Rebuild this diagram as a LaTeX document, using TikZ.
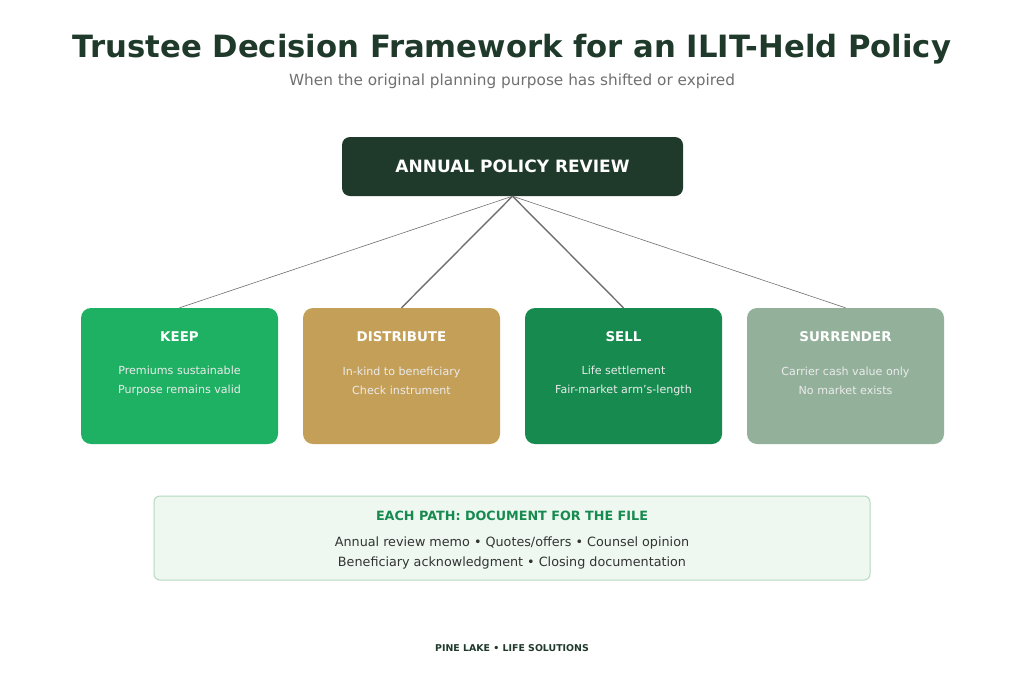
\documentclass[tikz,border=0pt]{standalone}
\usepackage{fontspec}
\setmainfont{DejaVu Sans}
\usepackage{tikz}
\usetikzlibrary{positioning}
\definecolor{pineDeep}{HTML}{1F3A2B}
\definecolor{pineKeep}{HTML}{1FB163}
\definecolor{pineGold}{HTML}{C49F58}
\definecolor{pineSell}{HTML}{178A4F}
\definecolor{pineSage}{HTML}{93B09B}
\definecolor{pineMint}{HTML}{EEF8F1}
\definecolor{pineMintLine}{HTML}{B5D9BF}
\definecolor{pineGrey}{HTML}{707070}
\definecolor{pineText}{HTML}{333333}

\begin{document}
\begin{tikzpicture}[x=1pt,y=-1pt,
    pathbox/.style={rounded corners=10pt,minimum width=197pt,minimum height=136pt,
                    inner sep=0pt,draw=none},
    boxhead/.style={text=white,font=\fontsize{13.4}{15}\selectfont\bfseries},
    boxbody/.style={text=white!92!black,align=center,
                    font=\fontsize{11.1}{19}\selectfont},
    link/.style={pineGrey,line width=#1},
    link/.default=1.4pt]
  \useasboundingbox[fill=white] (0,0) rectangle (1024,683);
  % title
  \node[text=pineDeep,font=\fontsize{30.7}{36}\selectfont\bfseries] (title) at (512,49.5)
    {Trustee Decision Framework for an ILIT-Held Policy};
  \node[text=pineGrey,font=\fontsize{15.3}{18}\selectfont] (sub) at (512,81)
    {When the original planning purpose has shifted or expired};
  % review box
  \node[fill=pineDeep,rounded corners=8pt,minimum width=341pt,minimum height=59pt,
        text=white,font=\fontsize{17}{19}\selectfont\bfseries] (review) at (512.5,166.5)
    {ANNUAL POLICY REVIEW};
  % the four paths
  \node[pathbox,fill=pineKeep] (keep) at (179.5,376) {};
  \node[pathbox,fill=pineGold] (dist) at (401.5,376) {};
  \node[pathbox,fill=pineSell] (sell) at (623.5,376) {};
  \node[pathbox,fill=pineSage] (surr) at (845.5,376) {};
  \foreach \b/\h/\t in {keep/KEEP/{Premiums sustainable\\Purpose remains valid},
                        dist/DISTRIBUTE/{In-kind to beneficiary\\Check instrument},
                        sell/SELL/{Life settlement\\Fair-market arm's-length},
                        surr/SURRENDER/{Carrier cash value only\\No market exists}}{
    \node[boxhead] (\b-h) at ([yshift=39pt]\b.center) {\h};
    \node[boxbody] (\b-t) at ([yshift=-4.5pt]\b.center) {\t};
  }
  \draw[link=0.6pt] (review.south) -- (keep.north);
  \draw[link] (review.south) -- (dist.north);
  \draw[link] (review.south) -- (sell.north);
  \draw[link=0.6pt] (review.south) -- (surr.north);
  % documentation box
  \node[fill=pineMint,draw=pineMintLine,line width=1pt,rounded corners=6pt,
        minimum width=716pt,minimum height=84pt] (docs) at (512,538) {};
  \node[text=pineSell,font=\fontsize{12.75}{14}\selectfont\bfseries] (docs-h)
    at (512,516) {EACH PATH: DOCUMENT FOR THE FILE};
  \node[text=pineText,align=center,font=\fontsize{12.75}{20}\selectfont] (docs-t)
    at (512,553) {Annual review memo • Quotes/offers • Counsel opinion\\
                  Beneficiary acknowledgment • Closing documentation};
  % footer
  \node[text=pineDeep,font=\fontsize{9.4}{11}\selectfont\bfseries] (foot) at (512,648)
    {PINE LAKE • LIFE SOLUTIONS};
\end{tikzpicture}
\end{document}
